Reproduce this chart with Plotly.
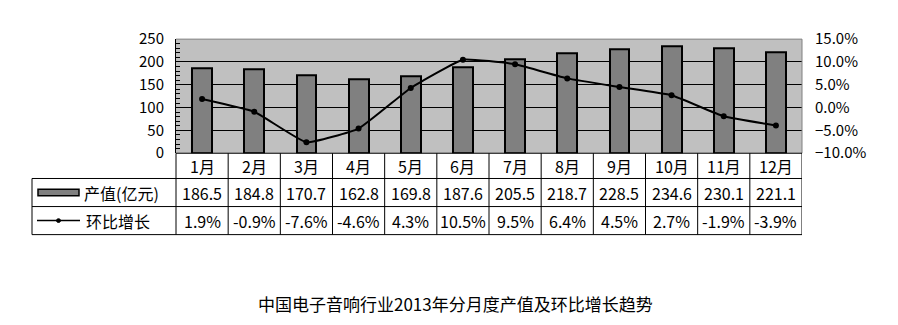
import plotly.graph_objects as go

months = ["1月", "2月", "3月", "4月", "5月", "6月", "7月", "8月", "9月", "10月", "11月", "12月"]
output_value = [186.5, 184.8, 170.7, 162.8, 169.8, 187.6, 205.5, 218.7, 228.5, 234.6, 230.1, 221.1]
growth_pct = [1.9, -0.9, -7.6, -4.6, 4.3, 10.5, 9.5, 6.4, 4.5, 2.7, -1.9, -3.9]
series_names = ["产值(亿元)", "环比增长"]
title_text = "中国电子音响行业2013年分月度产值及环比增长趋势"

W, H = 898, 325
PL, PR, PT, PB = 176, 802, 29, 151
ROW_Y = [151, 178, 208, 238]
LEG_X = 32
FONT = "Noto Sans CJK SC"


def px(x):
    return x / W


def py(y):
    return 1 - y / H


fig = go.Figure()
fig.add_trace(go.Bar(
    x=months, y=output_value, name=series_names[0], width=0.38,
    marker=dict(color="#808080", line=dict(color="black", width=2)),
    yaxis="y",
))
fig.add_trace(go.Scatter(
    x=months, y=growth_pct, name=series_names[1], yaxis="y2",
    mode="lines+markers",
    line=dict(color="black", width=2, shape="spline", smoothing=0.35),
    marker=dict(color="black", size=6, symbol="circle"),
))

shapes = []
# plot area top & right border (gray)
shapes.append(dict(type="line", xref="paper", yref="paper", x0=px(PL), x1=px(PR), y0=py(PT), y1=py(PT),
                   line=dict(color="#808080", width=1)))
shapes.append(dict(type="line", xref="paper", yref="paper", x0=px(PR), x1=px(PR), y0=py(PT), y1=py(PB),
                   line=dict(color="#808080", width=1)))
# table horizontal lines
shapes.append(dict(type="line", xref="paper", yref="paper", x0=px(PL), x1=px(PR), y0=py(ROW_Y[0]), y1=py(ROW_Y[0]),
                   line=dict(color="black", width=1)))
for ry in ROW_Y[1:]:
    shapes.append(dict(type="line", xref="paper", yref="paper", x0=px(LEG_X), x1=px(PR), y0=py(ry), y1=py(ry),
                       line=dict(color="black", width=1)))
# table verticals
shapes.append(dict(type="line", xref="paper", yref="paper", x0=px(LEG_X), x1=px(LEG_X), y0=py(ROW_Y[1]), y1=py(ROW_Y[3]),
                   line=dict(color="black", width=1)))
shapes.append(dict(type="line", xref="paper", yref="paper", x0=px(PL), x1=px(PL), y0=py(ROW_Y[0]), y1=py(ROW_Y[3]),
                   line=dict(color="black", width=1)))
for k in range(len(months)):
    shapes.append(dict(type="line", xref="x", yref="paper", x0=k + 0.5, x1=k + 0.5, y0=py(ROW_Y[0]), y1=py(ROW_Y[3]),
                       line=dict(color="black", width=1)))
# legend symbols
r2c = (ROW_Y[1] + ROW_Y[2]) / 2
r3c = (ROW_Y[2] + ROW_Y[3]) / 2
shapes.append(dict(type="rect", xref="paper", yref="paper", x0=px(38), x1=px(79), y0=py(r2c - 3.5), y1=py(r2c + 3.5),
                   fillcolor="#808080", line=dict(color="black", width=1.5)))
shapes.append(dict(type="line", xref="paper", yref="paper", x0=px(37), x1=px(80), y0=py(r3c), y1=py(r3c),
                   line=dict(color="black", width=1.5)))
shapes.append(dict(type="circle", xref="paper", yref="paper", x0=px(56.5), x1=px(60.5), y0=py(r3c - 2), y1=py(r3c + 2),
                   fillcolor="black", line=dict(color="black", width=1)))

annotations = []
r1c = (ROW_Y[0] + ROW_Y[1]) / 2
tf = dict(size=16, family=FONT, color="black")
for i, m in enumerate(months):
    annotations.append(dict(x=m, xref="x", y=py(r1c), yref="paper", text=m, showarrow=False,
                            xanchor="center", yanchor="middle", font=tf))
    annotations.append(dict(x=m, xref="x", y=py(r2c), yref="paper", text=f"{output_value[i]:.1f}", showarrow=False,
                            xanchor="center", yanchor="middle", font=tf))
    annotations.append(dict(x=m, xref="x", y=py(r3c), yref="paper", text=f"{growth_pct[i]:.1f}%", showarrow=False,
                            xanchor="center", yanchor="middle", font=tf))
annotations.append(dict(x=px(82), xref="paper", y=py(r2c), yref="paper", text=series_names[0], showarrow=False,
                        xanchor="left", yanchor="middle", font=tf))
annotations.append(dict(x=px(84), xref="paper", y=py(r3c), yref="paper", text=series_names[1], showarrow=False,
                        xanchor="left", yanchor="middle", font=tf))
annotations.append(dict(x=px(455), xref="paper", y=py(312), yref="paper", text=title_text, showarrow=False,
                        xanchor="center", yanchor="middle", font=dict(size=17, family=FONT, color="black")))

fig.update_layout(
    width=W, height=H, margin=dict(l=0, r=0, t=0, b=0), autosize=False,
    paper_bgcolor="white", plot_bgcolor="#c0c0c0",
    showlegend=False, bargap=0,
    font=dict(family=FONT, color="black", size=15),
    xaxis=dict(domain=[px(PL), px(PR)], type="category", range=[-0.5, len(months) - 0.5],
               showticklabels=False, showgrid=False, showline=False, zeroline=False, ticks=""),
    yaxis=dict(domain=[py(PB), py(PT)], range=[0, 250], dtick=50, showgrid=True, gridcolor="black", gridwidth=1,
               zeroline=False, showline=True, linecolor="black", linewidth=1,
               ticks="inside", ticklen=5, tickcolor="black",
               minor=dict(dtick=10, ticks="inside", ticklen=4, tickcolor="black", showgrid=False),
               ticklabelstandoff=8, tickfont=dict(size=15, family=FONT, color="black")),
    yaxis2=dict(overlaying="y", side="right", range=[-10, 15], dtick=5, showgrid=False, zeroline=False,
                showline=False, ticks="", ticksuffix="%", tickformat=".1f", ticklabelstandoff=12,
                tickfont=dict(size=15, family=FONT, color="black")),
    shapes=shapes, annotations=annotations,
)

fig.write_html("out.html")
